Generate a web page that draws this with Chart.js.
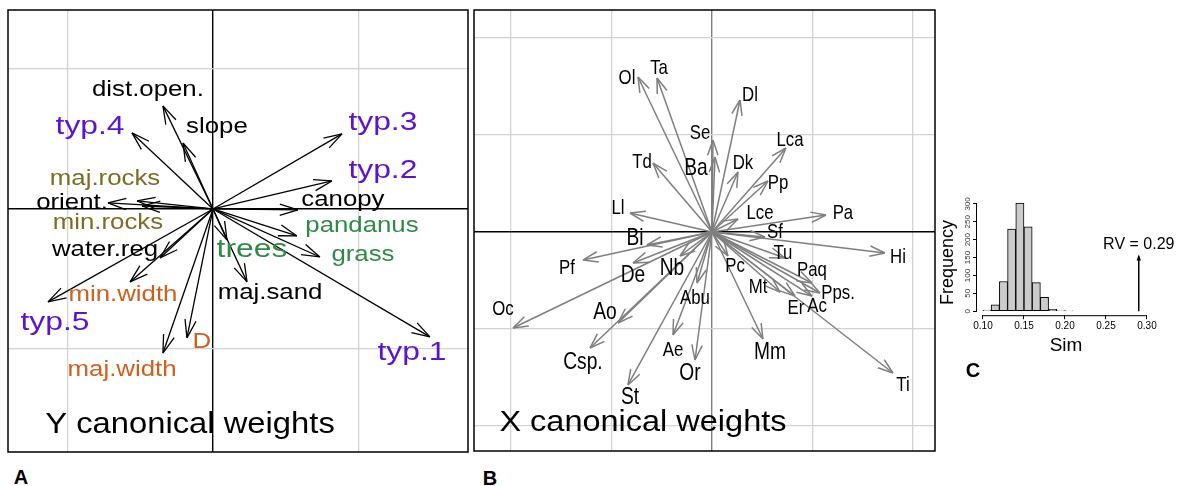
<!DOCTYPE html>
<html>
<head>
<meta charset="utf-8">
<script src="https://cdn.jsdelivr.net/npm/chart.js@4.4.1/dist/chart.umd.min.js"></script>
<style>
  body { margin: 0; width: 1180px; height: 486px; background: #fff; position: relative; overflow: hidden; font-family: "Liberation Sans", Arial, sans-serif; }
  canvas { position: absolute; }
  .tag { position: absolute; font-weight: bold; font-size: 20px; transform: translate(-50%, -50%); line-height: 1; }
</style>
</head>
<body>
<canvas id="chartA" width="464" height="446" style="left:6px;top:8px"></canvas>
<canvas id="chartB" width="465" height="445" style="left:472px;top:8px"></canvas>
<canvas id="chartC" width="246" height="171" style="left:933px;top:190px"></canvas>
<div class="tag" style="left:21px;top:477px">A</div>
<div class="tag" style="left:490px;top:478px">B</div>
<div class="tag" style="left:973px;top:370px">C</div>
<script>
// Panel A - Y canonical weights (axis 1, axis 2)
const yVars = ['dist.open.', 'slope', 'typ.4', 'typ.3', 'typ.2', 'canopy', 'pandanus', 'grass', 'trees', 'maj.sand',
  'typ.1', 'D', 'maj.width', 'typ.5', 'min.width', 'water.reg', 'min.rocks', 'orient.', 'maj.rocks'];
const yAx1 = [-0.344, -0.206, -0.557, 0.887, 0.818, 0.584, 0.577, 0.735, 0.096, 0.234,
  1.491, -0.179, -0.344, -1.134, -0.570, -0.364, -0.488, -0.722, -0.522];
const yAx2 = [0.736, 0.471, 0.543, 0.536, 0.200, -0.007, -0.193, -0.343, -0.221, -0.521,
  -0.914, -0.921, -1.029, -0.664, -0.521, -0.350, 0.021, 0.043, 0.057];
// where each label sits (data units)
const yLabX = [-0.447, 0.027, -0.845, 1.168, 1.168, 0.893, 1.024, 1.031, 0.268, 0.392,
  1.368, -0.076, -0.625, -1.086, -0.619, -0.742, -0.722, -0.969, -0.742];
const yLabY = [0.85, 0.586, 0.586, 0.614, 0.271, 0.064, -0.121, -0.329, -0.293, -0.6,
  -1.029, -0.95, -1.15, -0.814, -0.614, -0.293, -0.1, 0.043, 0.214];
const yGridTicks = [-1, 0, 1];

// Panel B - X canonical weights
const xVars = ['Ol', 'Ta', 'Dl', 'Se', 'Ba', 'Lca', 'Td', 'Dk', 'Pp', 'Lce', 'Pa', 'Ll', 'Sf', 'Hi', 'Tu', 'Paq', 'Pps.',
  'Ac', 'Er', 'Mt', 'Pc', 'Mm', 'Ti', 'Bi', 'Pf', 'De', 'Nb', 'Oc', 'Ao', 'Csp.', 'Abu', 'Ae', 'Or', 'St'];
const xAx1 = [-0.736, -0.547, 0.279, 0.010, 0.030, 0.736, -0.587, 0.259, 0.557, 0.259, 1.134, -0.816, 0.527, 1.721, 0.726, 0.995, 1.075,
  0.995, 0.826, 0.677, 0.159, 0.507, 1.801, -0.647, -1.284, -0.786, -0.318, -1.980, -0.935, -1.214, -0.149, -0.388, -0.169, -0.836];
const xAx2 = [1.598, 1.588, 1.361, 0.948, 0.773, 0.866, 0.711, 0.619, 0.526, 0.134, 0.175, 0.196, -0.052, -0.216, -0.268, -0.526, -0.629,
  -0.660, -0.660, -0.619, -0.247, -1.103, -1.454, -0.134, -0.289, -0.320, -0.247, -0.990, -0.938, -1.196, -0.526, -1.062, -1.320, -1.577];
const xLabX = [-0.846, -0.527, 0.378, -0.119, -0.159, 0.776, -0.697, 0.308, 0.657, 0.478, 1.303, -0.935, 0.627, 1.851, 0.706, 0.995, 1.254,
  1.045, 0.836, 0.458, 0.229, 0.577, 1.9, -0.766, -1.443, -0.786, -0.398, -2.08, -1.065, -1.284, -0.169, -0.388, -0.219, -0.816];
const xLabY = [1.588, 1.691, 1.412, 1.021, 0.66, 0.948, 0.722, 0.711, 0.505, 0.196, 0.196, 0.247, 0.0, -0.258, -0.216, -0.392, -0.629,
  -0.763, -0.784, -0.567, -0.351, -1.237, -1.577, -0.062, -0.371, -0.443, -0.371, -0.794, -0.825, -1.34, -0.68, -1.216, -1.454, -1.701];
const xGridTicks = [-2, -1, 0, 1, 2];

// Panel C - permutation test
const simBins = [0.10, 0.11, 0.12, 0.13, 0.14, 0.15, 0.16, 0.17, 0.18, 0.19, 0.20];
const simCounts = [3, 18, 83, 230, 302, 236, 80, 39, 5, 2, 1];
const binWidth = 0.01;
const simTicks = [0.10, 0.15, 0.20, 0.25, 0.30];
const freqTicks = [0, 50, 100, 150, 200, 250, 300];
const rvValue = 0.29;
const rvHeight = 153;

const FONT = '"Liberation Sans", Arial, sans-serif';

// colours / sizes of the labels
function yColor(name) {
  if (name.startsWith('typ')) return '#5b14d0';
  if (name.includes('rocks')) return '#7e6c22';
  if (['pandanus', 'grass', 'trees'].includes(name)) return '#2f8a48';
  if (name.includes('width') || name === 'D') return '#cf5f1d';
  return '#000';
}
function ySize(name) {
  return (name.startsWith('typ') || name === 'trees') ? 26.5 : 21.5;
}
const bigX = ['Bi', 'Ba', 'Nb', 'De', 'Ao', 'Csp.', 'Or', 'St', 'Mm'];
function xSize(name) {
  return bigX.includes(name) ? 24 : 21;
}

const panels = {
  A: {
    vars: yVars, tx: yAx1, ty: yAx2, lx: yLabX, ly: yLabY,
    color: n => yColor(n), size: n => ySize(n), stretch: 1.2,
    arrowColor: '#000', headLen: 19, headAngle: 0.30,
    title: 'Y canonical weights', titleX: -0.158, titleY: -1.543, titleStretch: 1.13
  },
  B: {
    vars: xVars, tx: xAx1, ty: xAx2, lx: xLabX, ly: xLabY,
    color: () => '#000', size: n => xSize(n), stretch: 0.8,
    arrowColor: '#7f7f7f', headLen: 16, headAngle: 0.33,
    title: 'X canonical weights', titleX: -0.687, titleY: -1.969, titleStretch: 1.12
  }
};

function drawStretched(ctx, text, x, y, size, color, sx, rot) {
  ctx.save();
  ctx.font = size + 'px ' + FONT;
  ctx.fillStyle = color;
  ctx.textAlign = 'center';
  ctx.textBaseline = 'middle';
  ctx.translate(x, y);
  if (rot) ctx.rotate(rot);
  ctx.scale(sx, 1);
  ctx.fillText(text, 0, 0);
  ctx.restore();
}

// arrow heads, labels, title and frame for the two biplots
const biplotPlugin = {
  id: 'biplot',
  afterDatasetsDraw(chart, args, opts) {
    const p = panels[opts.panel];
    if (!p) return;
    const { ctx, chartArea: a, scales: { x, y } } = chart;
    const ox = x.getPixelForValue(0), oy = y.getPixelForValue(0);
    ctx.save();
    ctx.strokeStyle = p.arrowColor;
    ctx.lineWidth = opts.lineWidth;
    p.tx.forEach((tx, i) => {
      const px = x.getPixelForValue(tx), py = y.getPixelForValue(p.ty[i]);
      const ang = Math.atan2(py - oy, px - ox);
      ctx.beginPath();
      [-1, 1].forEach(s => {
        const b = ang + Math.PI + s * p.headAngle;
        ctx.moveTo(px, py);
        ctx.lineTo(px + p.headLen * Math.cos(b), py + p.headLen * Math.sin(b));
      });
      ctx.stroke();
    });
    p.vars.forEach((name, i) => {
      drawStretched(ctx, name, x.getPixelForValue(p.lx[i]), y.getPixelForValue(p.ly[i]),
        p.size(name), p.color(name), p.stretch);
    });
    drawStretched(ctx, p.title, x.getPixelForValue(p.titleX), y.getPixelForValue(p.titleY), 29, '#000', p.titleStretch);
    ctx.strokeStyle = '#000';
    ctx.lineWidth = 1.5;
    ctx.strokeRect(a.left, a.top, a.right - a.left, a.bottom - a.top);
    ctx.restore();
  }
};

function gridScale(min, max, ticks, zeroColor) {
  return {
    type: 'linear', min: min, max: max,
    afterBuildTicks: s => { s.ticks = ticks.map(v => ({ value: v })); },
    ticks: { display: false },
    border: { display: false },
    grid: {
      drawTicks: false,
      color: c => (c.tick && c.tick.value === 0) ? zeroColor : '#d3d3d3',
      lineWidth: c => (c.tick && c.tick.value === 0) ? 1.4 : 1.3
    }
  };
}

function arrowSets(xs, ys, color, width) {
  return xs.map((v, i) => ({
    data: [{ x: 0, y: 0 }, { x: v, y: ys[i] }],
    showLine: true, borderColor: color, borderWidth: width,
    pointRadius: 0, tension: 0
  }));
}

function makeBiplot(id, key, xr, yr, ticks, vZero, lineWidth) {
  const p = panels[key];
  return new Chart(document.getElementById(id), {
    type: 'scatter',
    data: { datasets: arrowSets(p.tx, p.ty, p.arrowColor, lineWidth) },
    options: {
      responsive: false, animation: false, events: [],
      layout: { padding: 2 },
      plugins: { legend: { display: false }, tooltip: { enabled: false }, biplot: { panel: key, lineWidth: lineWidth } },
      scales: {
        x: gridScale(xr[0], xr[1], ticks, vZero),
        y: gridScale(yr[0], yr[1], ticks, '#000')
      }
    },
    plugins: [biplotPlugin]
  });
}

makeBiplot('chartA', 'A', [-1.409, 1.753], [-1.736, 1.421], yGridTicks, '#000', 1.3);
makeBiplot('chartB', 'B', [-2.368, 2.219], [-2.258, 2.289], xGridTicks, '#808080', 1.5);

// histogram extras: R-style axis lines, rotated y labels, observed RV arrow
const histPlugin = {
  id: 'histExtras',
  afterDraw(chart) {
    const { ctx, chartArea: a, scales: { x, y } } = chart;
    ctx.save();
    ctx.strokeStyle = '#000';
    ctx.lineWidth = 1;
    ctx.beginPath();
    ctx.moveTo(x.getPixelForValue(simTicks[0]), a.bottom + 0.5);
    ctx.lineTo(x.getPixelForValue(simTicks[simTicks.length - 1]), a.bottom + 0.5);
    ctx.moveTo(a.left - 0.5, y.getPixelForValue(freqTicks[0]));
    ctx.lineTo(a.left - 0.5, y.getPixelForValue(freqTicks[freqTicks.length - 1]));
    ctx.stroke();
    freqTicks.forEach(v => {
      drawStretched(ctx, String(v), a.left - 9, y.getPixelForValue(v), 8, '#333', 1, -Math.PI / 2);
    });
    const mid = (y.getPixelForValue(freqTicks[0]) + y.getPixelForValue(freqTicks[freqTicks.length - 1])) / 2;
    drawStretched(ctx, 'Frequency', a.left - 29, mid + 5, 18, '#000', 1, -Math.PI / 2);
    // arrow head on the observed value
    const rx = x.getPixelForValue(rvValue), ry = y.getPixelForValue(rvHeight);
    ctx.fillStyle = '#000';
    ctx.beginPath();
    ctx.moveTo(rx, ry - 2);
    ctx.lineTo(rx - 2.2, ry + 4);
    ctx.lineTo(rx + 2.2, ry + 4);
    ctx.closePath();
    ctx.fill();
    drawStretched(ctx, 'RV = ' + rvValue.toFixed(2), rx, ry - 12, 16, '#000', 1);
    ctx.restore();
  }
};

new Chart(document.getElementById('chartC'), {
  type: 'bar',
  data: {
    datasets: [{
      type: 'bar',
      data: simBins.map((b, i) => ({ x: b + binWidth / 2, y: simCounts[i] })),
      backgroundColor: '#cbcbcb', borderColor: '#000', borderWidth: 1,
      barPercentage: 1, categoryPercentage: 1, borderSkipped: false
    }, {
      type: 'line',
      data: [{ x: rvValue, y: 0 }, { x: rvValue, y: rvHeight }],
      borderColor: '#000', borderWidth: 1.5, pointRadius: 0
    }]
  },
  options: {
    responsive: false, animation: false, events: [],
    layout: { padding: { left: 40, right: 24, top: 0, bottom: 0 } },
    plugins: { legend: { display: false }, tooltip: { enabled: false } },
    scales: {
      x: {
        type: 'linear', min: 0.0927, max: 0.3098, offset: false,
        afterBuildTicks: s => { s.ticks = simTicks.map(v => ({ value: v })); },
        ticks: { callback: v => Number(v).toFixed(2), font: { size: 10, family: FONT }, color: '#000', padding: 1, maxRotation: 0, autoSkip: false },
        grid: { drawOnChartArea: false, drawTicks: true, tickLength: 4, color: '#000', offset: false },
        border: { display: false },
        title: { display: true, text: 'Sim', font: { size: 19, family: FONT }, color: '#000', padding: { top: 1, bottom: 4 } }
      },
      y: {
        min: -11.1, max: 338.9,
        afterBuildTicks: s => { s.ticks = freqTicks.map(v => ({ value: v })); },
        ticks: { display: false },
        grid: { drawOnChartArea: false, drawTicks: true, tickLength: 4, color: '#000' },
        border: { display: false }
      }
    }
  },
  plugins: [histPlugin]
});
</script>
</body>
</html>
